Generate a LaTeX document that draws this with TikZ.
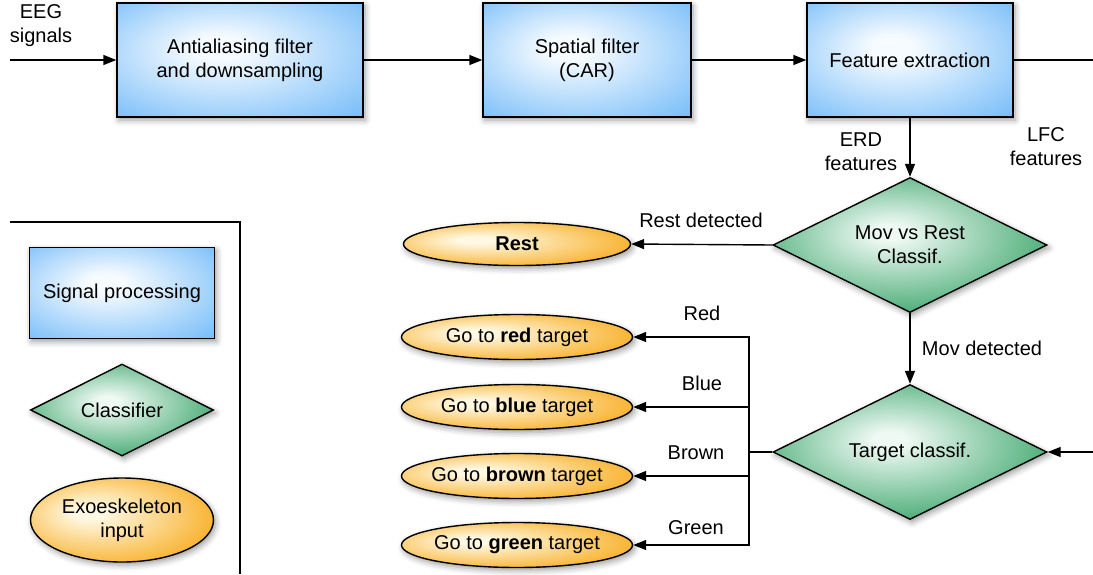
\documentclass[tikz,border=0pt]{standalone}
\usepackage{fontspec}
\setmainfont{Liberation Sans}
\usetikzlibrary{shapes.geometric,arrows.meta,shadows.blur}

\definecolor{bluein}{RGB}{246,251,255}
\definecolor{blueout}{RGB}{108,183,248}
\definecolor{greenin}{RGB}{238,249,243}
\definecolor{greenout}{RGB}{48,160,98}
\definecolor{orangein}{RGB}{255,248,226}
\definecolor{orangeout}{RGB}{247,168,20}

\pgfdeclareradialshading{blueshade}{\pgfpoint{-5bp}{6bp}}{color(0bp)=(bluein); color(5bp)=(bluein); color(40bp)=(blueout); color(50bp)=(blueout)}
\pgfdeclareradialshading{greenshade}{\pgfpoint{-4bp}{5bp}}{color(0bp)=(greenin); color(3bp)=(greenin); color(32bp)=(greenout); color(50bp)=(greenout)}
\pgfdeclareradialshading{orangeshade}{\pgfpoint{-10bp}{5bp}}{color(0bp)=(orangein); color(4bp)=(orangein); color(34bp)=(orangeout); color(50bp)=(orangeout)}

\newcommand{\ctext}[1]{\makebox[0pt][c]{#1}}

\tikzset{
  every node/.style={font=\fontsize{20}{24}\selectfont, text=black},
  softshadow/.style={blur shadow={shadow xshift=2pt, shadow yshift=-3pt, shadow blur radius=6pt, shadow opacity=40}},
  procbox/.style={rectangle, draw=black, line width=1.4pt, shading=blueshade, softshadow, align=center, inner sep=0pt, minimum height=114},
  classdiam/.style={diamond, aspect=2, draw=black, line width=1.4pt, shading=greenshade, softshadow, align=center, inner sep=0pt, minimum width=274, minimum height=135},
  exoell/.style={ellipse, draw=black, line width=1.4pt, shading=orangeshade, softshadow, align=center, inner sep=0pt, minimum width=231, minimum height=45},
  lbl/.style={align=center, inner sep=0pt},
  conn/.style={line width=1.4pt, draw=black},
  arr/.style={conn, -{Triangle[length=13pt,width=10pt]}}
}

\begin{document}
\begin{tikzpicture}[x=1pt,y=-1pt]
\useasboundingbox (0,0) rectangle (1093,574);

% processing chain
\node[procbox, minimum width=246] (aa) at (240,60) {Antialiasing filter\\and downsampling};
\node[procbox, minimum width=208] (car) at (587,60) {Spatial filter\\(CAR)};
\node[procbox, minimum width=206] (fe) at (910,60) {Feature extraction};

% classifiers
\node[classdiam] (mvr) at (910,245) {Mov vs Rest\\Classif.};
\node[classdiam] (tc) at (910,452) {Target classif.};

% outputs
\node[exoell, minimum width=227, minimum height=43] (rest) at (517,244) {\ctext{\textbf{Rest}}};
\node[exoell] (red) at (517,337) {\ctext{Go to \textbf{red} target}};
\node[exoell] (blue) at (517,407) {\ctext{Go to \textbf{blue} target}};
\node[exoell] (brown) at (517,476) {\ctext{Go to \textbf{brown} target}};
\node[exoell] (green) at (517,545) {\ctext{Go to \textbf{green} target}};

% free ends
\coordinate (in) at (10,60);
\coordinate (outR) at (1093,60);
\coordinate (inR) at (1093,452);
\coordinate (bus) at (749,452);

% labels
\node[lbl] (eeg) at (41,26) {EEG\\signals};
\node[lbl] (erd) at (861,152) {ERD\\features};
\node[lbl] (lfc) at (1046,147) {LFC\\features};
\node[lbl] (rd) at (701,220) {Rest detected};
\node[lbl] (md) at (982,348) {Mov detected};
\node[lbl] (lred) at (702,313) {Red};
\node[lbl] (lblue) at (702,383) {Blue};
\node[lbl] (lbrown) at (696,453) {Brown};
\node[lbl] (lgreen) at (696,528) {Green};

% connectors
\draw[arr] (in) -- (aa.west);
\draw[arr] (aa.east) -- (car.west);
\draw[arr] (car.east) -- (fe.west);
\draw[conn] (fe.east) -- (outR);
\draw[arr] (fe.south) -- (mvr.north);
\draw[arr] (mvr.west) -- (rest.east);
\draw[arr] (mvr.south) -- (tc.north);
\draw[arr] (inR) -- (tc.east);
\draw[conn] (tc.west) -- (bus);
\draw[arr] (bus) |- (red.east);
\draw[arr] (bus) |- (blue.east);
\draw[arr] (bus) |- (brown.east);
\draw[arr] (bus) |- (green.east);

% legend
\coordinate (lgA) at (10,222);
\coordinate (lgB) at (240,222);
\coordinate (lgC) at (240,574);
\draw[conn] (lgA) -- (lgB) -- (lgC);
\node[procbox, minimum width=185, minimum height=91] (lg1) at (122,293) {Signal processing};
\node[classdiam, minimum width=183, minimum height=92] (lg2) at (122,410) {Classifier};
\node[exoell, minimum width=183, minimum height=84] (lg3) at (122,520) {Exoeskeleton\\input};
\end{tikzpicture}
\end{document}
